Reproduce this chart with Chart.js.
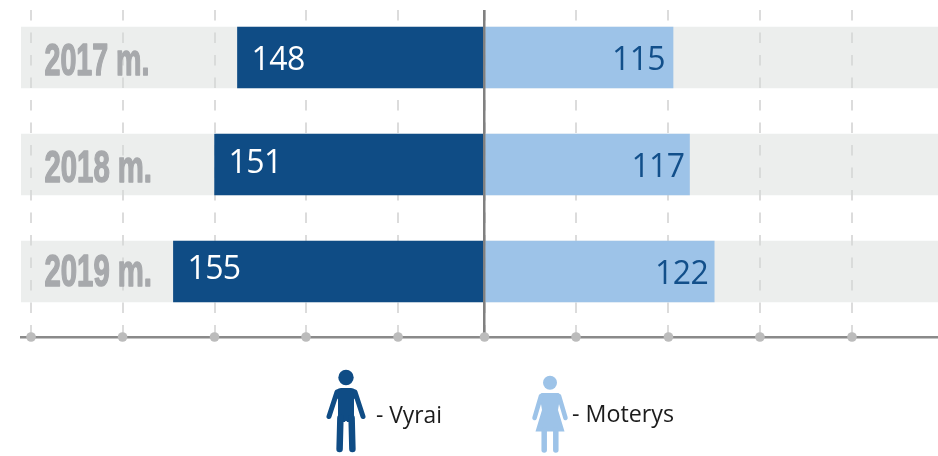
<!DOCTYPE html>
<html>
<head>
<meta charset="utf-8">
<style>html,body{margin:0;padding:0;background:#fff}canvas{display:block}</style>
<script src="https://cdn.jsdelivr.net/npm/chart.js@4"></script>
</head>
<body>
<canvas id="c" width="938" height="456"></canvas>
<script>
// Printed values
const categories = ['2017 m.', '2018 m.', '2019 m.'];
const maleValues = [148, 151, 155];
const femaleValues = [115, 117, 122];
// Bar extents as drawn in the picture, read in grid-step units (the reference does not draw them to one scale)
const maleExtents = [-2.70, -2.95, -3.40];
const femaleExtents = [2.06, 2.24, 2.51];
const bandRange = [-6, 6];
const gridSteps = [-4.956, -3.956, -2.951, -1.951, -0.945, 0, 1, 2.01, 3.01, 4.016];
const seriesNames = ['Vyrai', 'Moterys'];

const MALE = '#0f4c85', FEMALE = '#9dc3e8', GREYTXT = '#a7a9ac';

function fitText(ctx, txt, x, baseline, width, font, color, stroke) {
  ctx.save();
  ctx.font = font; ctx.fillStyle = color; ctx.textAlign = 'left'; ctx.textBaseline = 'alphabetic';
  const w = ctx.measureText(txt).width;
  ctx.translate(x, baseline);
  ctx.scale(width / w, 1);
  if (stroke) { ctx.strokeStyle = color; ctx.lineWidth = stroke; ctx.lineJoin = 'round'; ctx.strokeText(txt, 0, 0); }
  ctx.fillText(txt, 0, 0);
  ctx.restore();
}
function line(ctx, x1, y1, x2, y2, w) {
  ctx.lineWidth = w; ctx.lineCap = 'round';
  ctx.beginPath(); ctx.moveTo(x1, y1); ctx.lineTo(x2, y2); ctx.stroke();
}
function drawMan(ctx, cx, color) {
  ctx.fillStyle = color; ctx.strokeStyle = color;
  ctx.beginPath(); ctx.arc(cx, 377.5, 7.7, 0, Math.PI * 2); ctx.fill();
  ctx.beginPath();
  ctx.roundRect(cx - 11, 388, 22, 12, 6);
  ctx.rect(cx - 8, 394, 16, 28);
  ctx.fill();
  line(ctx, cx - 9, 392, cx - 17, 416.5, 5);
  line(ctx, cx + 9, 392, cx + 17, 416.5, 5);
  line(ctx, cx - 5.6, 418, cx - 6.4, 449, 6.5);
  line(ctx, cx + 5.6, 418, cx + 6.4, 449, 6.5);
  ctx.strokeStyle = '#fff';
  ctx.lineWidth = 1.6; ctx.lineCap = 'butt';
  ctx.beginPath(); ctx.moveTo(cx, 421); ctx.lineTo(cx, 456); ctx.stroke();
}
function drawWoman(ctx, cx, color) {
  ctx.fillStyle = color; ctx.strokeStyle = color;
  ctx.beginPath(); ctx.arc(cx, 382.8, 7, 0, Math.PI * 2); ctx.fill();
  ctx.beginPath();
  ctx.moveTo(cx - 8, 393);
  ctx.lineTo(cx + 8, 393);
  ctx.quadraticCurveTo(cx + 10, 393, cx + 10, 398);
  ctx.lineTo(cx + 8, 410);
  ctx.lineTo(cx + 14.5, 431.5);
  ctx.lineTo(cx - 14.5, 431.5);
  ctx.lineTo(cx - 8, 410);
  ctx.lineTo(cx - 10, 398);
  ctx.quadraticCurveTo(cx - 10, 393, cx - 8, 393);
  ctx.fill();
  line(ctx, cx - 9, 396, cx - 15.5, 418, 4.5);
  line(ctx, cx + 9, 396, cx + 15.5, 418, 4.5);
  line(ctx, cx - 5.8, 430, cx - 5.8, 450, 5.5);
  line(ctx, cx + 5.8, 430, cx + 5.8, 450, 5.5);
}

const overlay = {
  id: 'overlay',
  afterDraw(chart) {
    const { ctx, scales: { x, y } } = chart;
    ctx.save();
    // axis dots
    ctx.fillStyle = '#bcbcbc';
    gridSteps.forEach(v => {
      ctx.beginPath(); ctx.arc(x.getPixelForValue(v), y.bottom, 4.8, 0, Math.PI * 2); ctx.fill();
    });
    // year labels
    const yearW = [105, 107.5, 107.5], yearDy = [17, 17.5, 14.5];
    categories.forEach((c, i) => {
      fitText(ctx, c, 44.5, y.getPixelForValue(i) + yearDy[i], yearW[i],
        'bold 45px "Liberation Sans Narrow","Liberation Sans"', GREYTXT, 1.5);
    });
    // value labels
    ctx.font = '32px "Open Sans"';
    ctx.textBaseline = 'alphabetic';
    if ('letterSpacing' in ctx) ctx.letterSpacing = '-0.6px';
    const mDy = [12.5, 8.5, 7], fDy = [12.5, 12.5, 12.5], fPad = [8, 5, 6];
    maleValues.forEach((v, i) => {
      ctx.fillStyle = '#ffffff'; ctx.textAlign = 'left';
      ctx.fillText(String(v), x.getPixelForValue(maleExtents[i]) + 14, y.getPixelForValue(i) + mDy[i]);
    });
    femaleValues.forEach((v, i) => {
      ctx.fillStyle = '#124f8a'; ctx.textAlign = 'right';
      ctx.fillText(String(v), x.getPixelForValue(femaleExtents[i]) - fPad[i], y.getPixelForValue(i) + fDy[i]);
    });
    if ('letterSpacing' in ctx) ctx.letterSpacing = '0px';
    // legend
    drawMan(ctx, 346, MALE);
    drawWoman(ctx, 550, FEMALE);
    fitText(ctx, '- ' + seriesNames[0], 376, 423, 66, '24px "Open Sans"', '#1c1c1c');
    fitText(ctx, '- ' + seriesNames[1], 572, 422, 102, '24px "Open Sans"', '#1c1c1c');
    ctx.restore();
  }
};

const points = arr => arr.map((v, i) => ({ x: v, y: i }));

new Chart(document.getElementById('c'), {
  type: 'bar',
  data: {
    datasets: [
      { label: seriesNames[0], data: points(maleExtents), backgroundColor: MALE },
      { label: seriesNames[1], data: points(femaleExtents), backgroundColor: FEMALE },
      { label: 'band', data: points(categories.map(() => bandRange)), backgroundColor: 'rgba(214,217,215,0.46)' }
    ]
  },
  options: {
    indexAxis: 'y',
    responsive: false,
    animation: false,
    events: [],
    layout: { padding: { left: 21, right: 0, top: 10, bottom: 119 } },
    datasets: { bar: { grouped: false, barThickness: 61 } },
    plugins: { legend: { display: false }, tooltip: { enabled: false }, title: { display: false } },
    scales: {
      y: {
        type: 'linear', display: false, offset: false, reverse: true,
        min: -0.444, max: 2.612
      },
      x: {
        type: 'linear', min: -5.066, max: 4.956,
        afterBuildTicks: s => { s.ticks = gridSteps.map(v => ({ value: v })); },
        ticks: { display: false },
        grid: { color: '#dcdcdc', lineWidth: 2, drawTicks: false },
        border: { display: true, color: '#8a8a8a', width: 2.5, dash: [10.5, 12], z: 1 }
      },
      x2: {
        type: 'linear', axis: 'x', position: 'bottom', min: -5.066, max: 4.956,
        afterBuildTicks: s => { s.ticks = [{ value: 0 }]; },
        ticks: { display: false },
        grid: { color: '#808080', lineWidth: 2.5, drawTicks: false, z: 1 },
        border: { display: false }
      }
    }
  },
  plugins: [overlay]
});
</script>
</body>
</html>
